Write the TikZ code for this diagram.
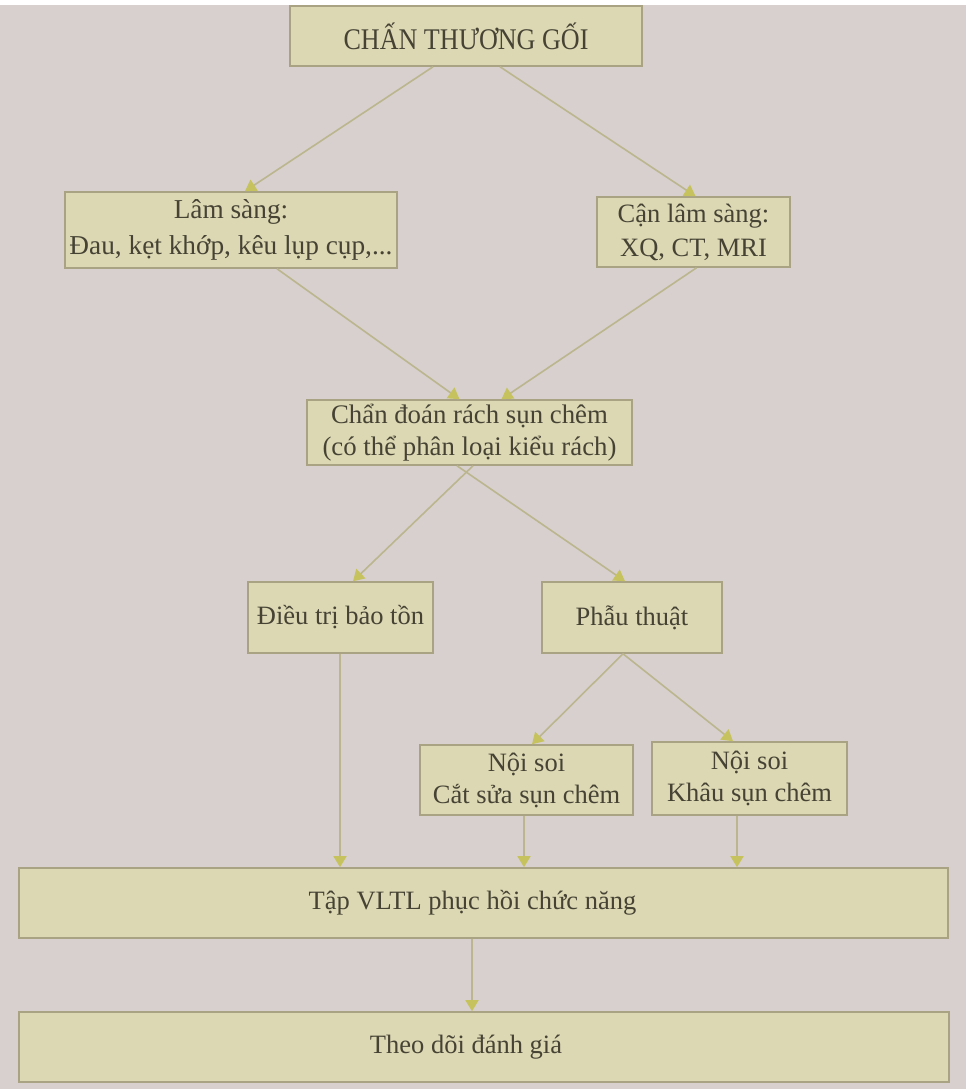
\documentclass[tikz,border=0pt]{standalone}
\usepackage{fontspec}
\setmainfont{Liberation Serif}
\newfontfamily\titlefont{Liberation Serif}[FakeStretch=0.87]
\usetikzlibrary{arrows.meta}

\definecolor{pagebg}{HTML}{D7D0CE}
\definecolor{boxfill}{HTML}{DCD8B3}
\definecolor{boxedge}{HTML}{A9A384}
\definecolor{inktext}{HTML}{464335}
\definecolor{linkline}{HTML}{BBB68E}
\definecolor{tipfill}{HTML}{C6C35E}

\tikzset{
  box/.style={draw=boxedge, line width=1.6pt, fill=boxfill, text=inktext,
    inner sep=0pt, align=center, font=\fontsize{26.5}{34}\selectfont},
  link/.style={draw=linkline, line width=1.6pt,
    -{Triangle[width=13pt,length=11pt,color=tipfill]}},
}

\begin{document}
\begin{tikzpicture}[x=1pt, y=-1pt]
  % page
  \fill[pagebg] (0,0) rectangle (966,1089);
  \fill[white] (0,0) rectangle (966,5);
  \useasboundingbox (0,0) rectangle (966,1089);

  % boxes
  \node[box, minimum width=352pt, minimum height=60pt,
        font=\titlefont\fontsize{30}{34}\selectfont] (top) at (466,36) {CHẤN THƯƠNG GỐI};
  \node[box, minimum width=332pt, minimum height=76pt,
        font=\fontsize{27.3}{36}\selectfont] (lam) at (231,230)
        {Lâm sàng:\\Đau, kẹt khớp, kêu lụp cụp,...};
  \node[box, minimum width=193pt, minimum height=70pt] (can) at (693.5,232)
        {Cận lâm sàng:\\XQ, CT, MRI};
  \node[box, minimum width=325pt, minimum height=65pt,
        font=\fontsize{26.8}{32}\selectfont] (chan) at (469.5,432.5)
        {Chẩn đoán rách sụn chêm\\(có thể phân loại kiểu rách)};
  \node[box, minimum width=185pt, minimum height=71pt] (dieu) at (340.5,617.5)
        {Điều trị bảo tồn};
  \node[box, minimum width=180pt, minimum height=71pt] (phau) at (632,617.5)
        {Phẫu thuật};
  \node[box, minimum width=213pt, minimum height=70pt,
        font=\fontsize{26.5}{32}\selectfont] (noi1) at (526.5,780)
        {Nội soi\\Cắt sửa sụn chêm};
  \node[box, minimum width=195pt, minimum height=73pt,
        font=\fontsize{26.5}{32}\selectfont] (noi2) at (749.5,778.5)
        {Nội soi\\Khâu sụn chêm};
  \node[box, minimum width=929pt, minimum height=70pt] (tap) at (483.5,903)
        {\hspace*{-22pt}Tập VLTL phục hồi chức năng};
  \node[box, minimum width=930pt, minimum height=70pt] (theo) at (484,1047)
        {\hspace*{-36pt}Theo dõi đánh giá};

  % connectors
  \draw[link] ([xshift=-33pt]top.south) -- ([xshift=14pt]lam.north);
  \draw[link] ([xshift=34pt]top.south) -- ([xshift=2pt]can.north);
  \draw[link] ([xshift=46pt]lam.south) -- ([xshift=-10pt]chan.north);
  \draw[link] ([xshift=3pt]can.south) -- ([xshift=32pt]chan.north);
  \draw[link] ([xshift=3.5pt]chan.south) -- ([xshift=12.5pt]dieu.north);
  \draw[link] ([xshift=-12.5pt]chan.south) -- ([xshift=-7pt]phau.north);
  \draw[link] ([xshift=-9pt]phau.south) -- ([xshift=5.5pt]noi1.north);
  \draw[link] ([xshift=-9pt]phau.south) -- ([xshift=-16.5pt]noi2.north);

  \coordinate (dieuout) at ([xshift=-0.5pt]dieu.south);
  \coordinate (noi1out) at ([xshift=-2.5pt]noi1.south);
  \coordinate (noi2out) at ([xshift=-12.5pt]noi2.south);
  \coordinate (tapout) at ([xshift=-11.5pt]tap.south);
  \draw[link] (dieuout) -- (dieuout |- tap.north);
  \draw[link] (noi1out) -- (noi1out |- tap.north);
  \draw[link] (noi2out) -- (noi2out |- tap.north);
  \draw[link] (tapout) -- (tapout |- theo.north);
\end{tikzpicture}
\end{document}
